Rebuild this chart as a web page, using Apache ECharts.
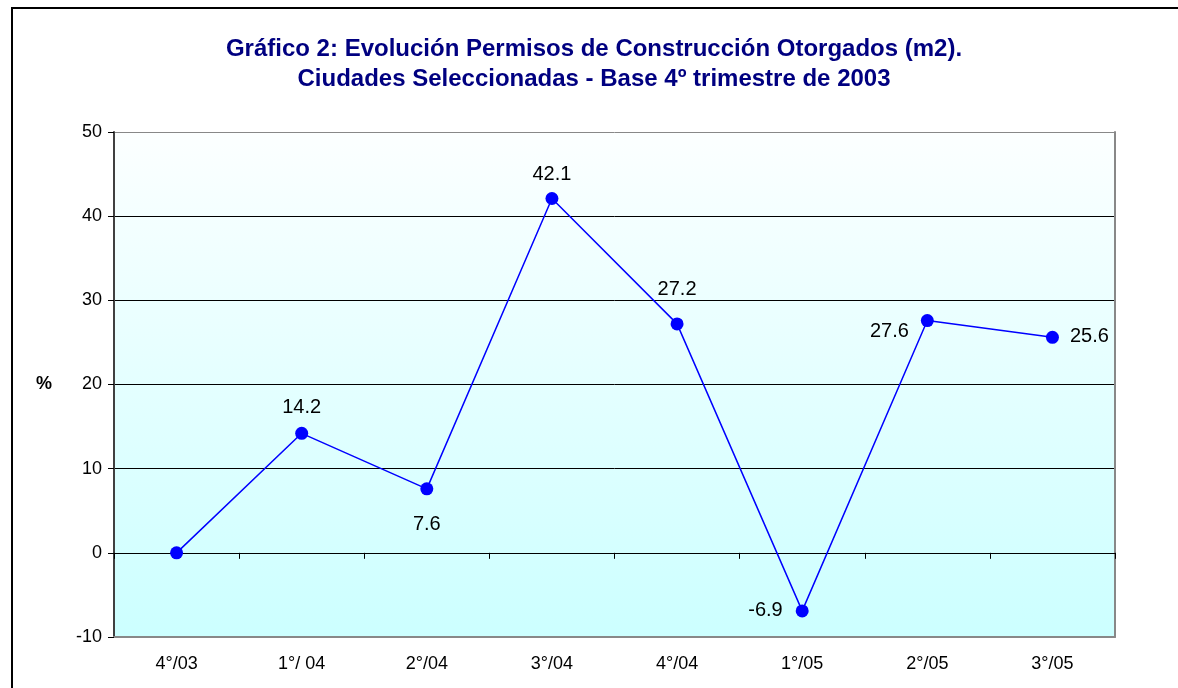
<!DOCTYPE html>
<html>
<head>
<meta charset="utf-8">
<script src="https://cdn.jsdelivr.net/npm/echarts@6/dist/echarts.min.js"></script>
<style>
html,body{margin:0;padding:0;background:#fff;}
#c{width:1178px;height:688px;}
</style>
</head>
<body>
<div id="c"></div>
<script>
var categories = ['4°/03', '1°/ 04', '2°/04', '3°/04', '4°/04', '1°/05', '2°/05', '3°/05'];
var values = [0, 14.2, 7.6, 42.1, 27.2, -6.9, 27.6, 25.6];
var labelPositions = [null, 'top', 'bottom', 'top', 'top', 'left', 'left', 'right'];
var labelDistances = [0, 9, 19, 8, 18, 13, 12, 11];
var labelOffsetsY = [0, 0, 0, 0, 0, 0, 11, -1];
var titleLines = ['Gráfico 2: Evolución Permisos de Construcción Otorgados (m2).', 'Ciudades Seleccionadas - Base 4º trimestre de 2003'];

var chart = echarts.init(document.getElementById('c'));
var font = 'Liberation Sans, Arial, sans-serif';

var seriesData = values.map(function (v, i) {
  var p = labelPositions[i];
  var item = { value: v };
  if (!p) {
    item.label = { show: false };
  } else {
    item.label = {
      show: true, position: p, distance: labelDistances[i],
      offset: [0, labelOffsetsY[i]],
      fontFamily: font, fontSize: 20, color: '#000'
    };
  }
  return item;
});

chart.setOption({
  animation: false,
  backgroundColor: '#ffffff',
  title: {
    text: titleLines.join('\n'),
    left: 589,
    textAlign: 'center',
    top: 29,
    textStyle: {
      fontFamily: font,
      fontSize: 24,
      fontWeight: 'bold',
      color: '#000080',
      lineHeight: 30
    }
  },
  graphic: [{
    type: 'rect',
    shape: { x: 12, y: 8, width: 3000, height: 3000 },
    style: { fill: 'none', stroke: '#000', lineWidth: 2 },
    silent: true,
    z: 10
  }],
  grid: {
    left: 114, right: 63, top: 132, bottom: 51,
    show: true,
    borderWidth: 0,
    backgroundColor: {
      type: 'linear', x: 0, y: 0, x2: 0, y2: 1,
      colorStops: [
        { offset: 0, color: '#fcffff' },
        { offset: 1, color: '#ccffff' }
      ]
    }
  },
  xAxis: [{
    type: 'category',
    data: categories,
    position: 'bottom',
    boundaryGap: true,
    axisLine: { show: true, onZero: false, lineStyle: { color: '#888888', width: 2 } },
    axisTick: { show: false },
    axisLabel: { fontFamily: font, fontSize: 18, color: '#000', margin: 18 },
    splitLine: { show: false }
  }, {
    type: 'category',
    data: categories,
    position: 'top',
    boundaryGap: true,
    axisLine: { show: true, onZero: true, lineStyle: { color: '#000', width: 1 } },
    axisTick: { show: true, inside: true, length: 6, lineStyle: { color: '#000' } },
    axisLabel: { show: false },
    splitLine: { show: false }
  }],
  yAxis: [{
    type: 'value',
    min: -10, max: 50, interval: 10,
    name: '%',
    nameLocation: 'middle',
    nameRotate: 0,
    nameGap: 62,
    nameTextStyle: { fontFamily: font, fontSize: 18, fontWeight: 'bold', color: '#000' },
    axisLine: { show: true, lineStyle: { color: '#404040', width: 2 } },
    axisTick: { show: true, length: 6, lineStyle: { color: '#000' } },
    axisLabel: { fontFamily: font, fontSize: 18, color: '#000', margin: 12 },
    splitLine: { show: true, lineStyle: { color: ['#888888', '#000', '#000', '#000', '#000', '#000'], width: 1 } }
  }, {
    type: 'value',
    min: -10, max: 50, interval: 10,
    position: 'right',
    axisLine: { show: true, lineStyle: { color: '#888888', width: 2 } },
    axisTick: { show: false },
    axisLabel: { show: false },
    splitLine: { show: false }
  }],
  series: [{
    type: 'line',
    xAxisIndex: 0,
    yAxisIndex: 0,
    data: seriesData,
    symbol: 'circle',
    symbolSize: 13,
    itemStyle: { color: '#0000ff' },
    lineStyle: { color: '#0000ff', width: 1.5 },
    label: { fontFamily: font, fontSize: 20, color: '#000', formatter: function (p) { return p.value.toFixed(1); } },
    z: 5
  }]
});
</script>
</body>
</html>
